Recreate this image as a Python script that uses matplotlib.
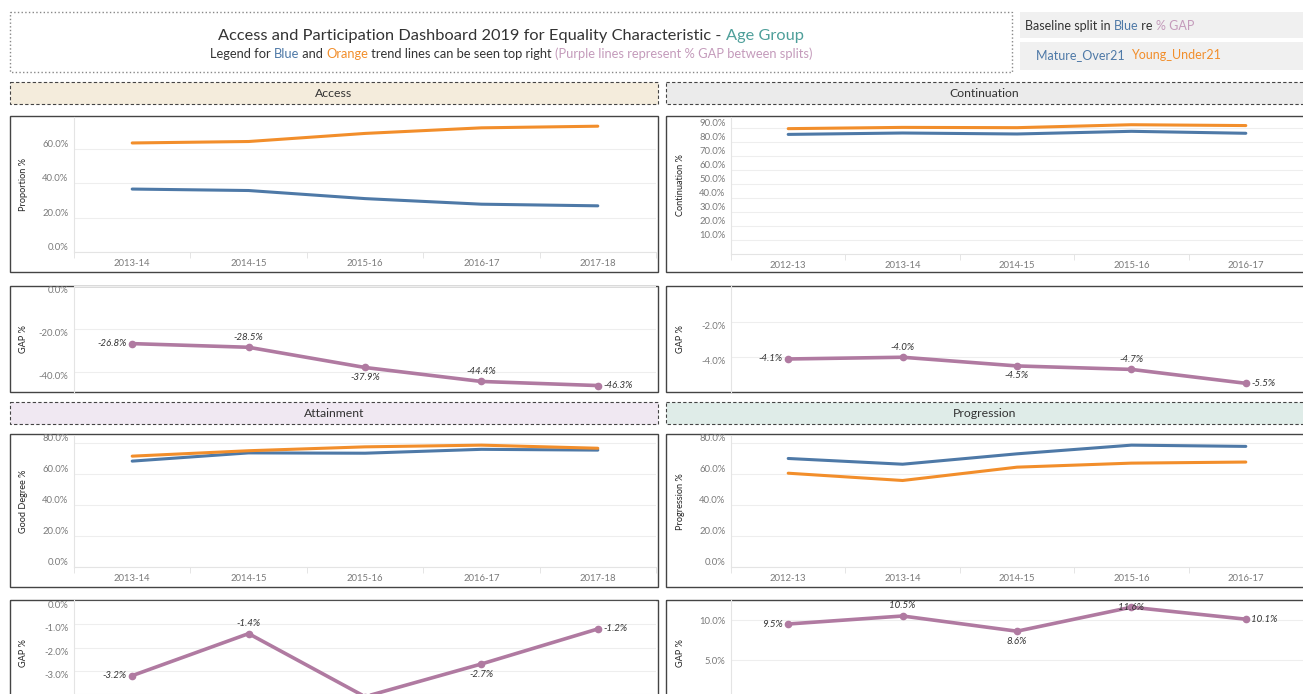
import matplotlib.pyplot as plt
from matplotlib.patches import Rectangle
from matplotlib.ticker import FuncFormatter

plt.rcParams['font.family'] = ['Lato', 'DejaVu Sans']

W, H = 1303, 694

# data
years_a = ['2013-14', '2014-15', '2015-16', '2016-17', '2017-18']
years_c = ['2012-13', '2013-14', '2014-15', '2015-16', '2016-17']

access_mature = [36.6, 35.75, 31.05, 27.8, 26.85]
access_young = [63.4, 64.25, 68.95, 72.2, 73.15]
access_gap = [-26.8, -28.5, -37.9, -44.4, -46.3]

cont_mature = [85.2, 86.2, 85.5, 87.4, 86.0]
cont_young = [89.3, 90.2, 90.0, 92.1, 91.5]
cont_gap = [-4.1, -4.0, -4.5, -4.7, -5.5]

att_mature = [68.3, 73.6, 73.4, 75.9, 75.4]
att_young = [71.5, 75.0, 77.5, 78.6, 76.6]
att_gap = [-3.2, -1.4, -4.1, -2.7, -1.2]

prog_mature = [70.0, 66.3, 73.0, 78.6, 77.8]
prog_young = [60.5, 55.8, 64.4, 67.0, 67.7]
prog_gap = [9.5, 10.5, 8.6, 11.6, 10.1]

BLUE = '#4e79a7'
ORANGE = '#f28e2b'
PURPLE = '#b07aa1'
TEAL = '#4e9f9a'
DARK = '#333333'
GREY = '#7a7a7a'

fig = plt.figure(figsize=(W / 100, H / 100), dpi=100)
bg = fig.add_axes([0, 0, 1, 1])
bg.set_xlim(0, W)
bg.set_ylim(H, 0)
bg.axis('off')
renderer = fig.canvas.get_renderer()


def box(x0, y0, x1, y1, fc='none', ec='none', ls='-', lw=1.0):
    bg.add_patch(Rectangle((x0, y0), x1 - x0, y1 - y0, facecolor=fc,
                           edgecolor=ec, linestyle=ls, linewidth=lw))


def text_width(s, size):
    t = bg.text(0, 0, s + '.', fontsize=size)
    d = bg.text(0, 0, '.', fontsize=size)
    w = t.get_window_extent(renderer).width - d.get_window_extent(renderer).width
    t.remove()
    d.remove()
    return w


def runs(x, y, parts, size, center=False):
    full = ''.join(s for s, c in parts)
    start = x - text_width(full, size) / 2 if center else x
    prefix = ''
    for s, c in parts:
        off = text_width(prefix, size) if prefix else 0
        bg.text(start + off, y, s, color=c, fontsize=size, va='center', ha='left')
        prefix += s


# header / legend area
box(10, 12, 1012, 72, ec='#888888', ls=':', lw=1.0)
runs(511, 36, [('Access and Participation Dashboard 2019 for Equality Characteristic - ', DARK),
               ('Age Group', TEAL)], 11.8, center=True)
runs(511, 54, [('Legend for ', DARK), ('Blue', BLUE), (' and ', DARK), ('Orange', ORANGE),
               (' trend lines can be seen top right ', DARK),
               ('(Purple lines represent % GAP between splits)', '#c49bbb')], 9.3, center=True)

box(1020, 12, 1310, 38, fc='#f0f0f0')
box(1020, 42, 1310, 70, fc='#f0f0f0')
runs(1025, 26, [('Baseline split in ', DARK), ('Blue', BLUE), (' re ', DARK), ('% GAP', '#c49bbb')], 9.0)
runs(1036, 55, [('Mature_Over21  ', BLUE), ('Young_Under21', ORANGE)], 9)

# section headers
for (x0, x1, y0, y1, name, fc) in [(10, 658, 82, 104, 'Access', '#f4ecdc'),
                                   (666, 1310, 82, 104, 'Continuation', '#ebebeb'),
                                   (10, 658, 402, 424, 'Attainment', '#f0e8f2'),
                                   (666, 1310, 402, 424, 'Progression', '#dfece8')]:
    box(x0, y0, x1, y1, fc=fc, ec='#444444', ls=(0, (3, 2)), lw=0.8)
    bg.text((x0 + min(x1, 1303)) / 2, (y0 + y1) / 2, name, fontsize=8.8, color=DARK,
            ha='center', va='center')

# panel borders
for (x0, x1, y0, y1) in [(10, 658, 116, 272), (666, 1310, 116, 272),
                         (10, 658, 286, 392), (666, 1310, 286, 392),
                         (10, 658, 434, 587), (666, 1310, 434, 587),
                         (10, 658, 600, 710), (666, 1310, 600, 710)]:
    box(x0, y0, x1, y1, ec='#444444', lw=1.0)


def make_ax(x0, y0, x1, y1):
    ax = fig.add_axes([x0 / W, 1 - y1 / H, (x1 - x0) / W, (y1 - y0) / H])
    ax.set_facecolor('none')
    return ax


def style(ax, ylim, ticks, ylabel, label_x, xlabels=None):
    ax.set_xlim(-0.5, 4.5)
    ax.set_ylim(*ylim)
    ax.set_yticks(ticks)
    ax.yaxis.set_major_formatter(FuncFormatter(lambda v, p: f'{v:.1f}%'))
    ax.grid(axis='y', color='#eeeeee', lw=0.8)
    ax.set_axisbelow(True)
    for s in ['top', 'right']:
        ax.spines[s].set_visible(False)
    ax.spines['left'].set_color('#e4e4e4')
    ax.tick_params(axis='y', length=0, pad=4, labelsize=6.8, labelcolor=GREY)
    if xlabels:
        ax.set_xticks(range(len(xlabels)))
        ax.set_xticklabels(xlabels)
        ax.set_xticks([i - 0.5 for i in range(len(xlabels) + 1)], minor=True)
        ax.tick_params(axis='x', which='major', length=0, pad=5, labelsize=6.8, labelcolor=GREY)
        ax.tick_params(axis='x', which='minor', length=4, color='#e0e0e0')
        ax.spines['bottom'].set_color('#e4e4e4')
    else:
        ax.set_xticks([])
        ax.spines['bottom'].set_visible(False)
    span = ylim[1] - ylim[0]
    for tick in ax.yaxis.get_major_ticks():
        loc = tick.get_loc()
        if abs(loc - ylim[1]) < 0.03 * span:
            tick.label1.set_va('top')
        elif abs(loc - ylim[0]) < 0.03 * span:
            tick.label1.set_va('bottom')
    ax.set_ylabel(ylabel, fontsize=6.6, color='#222222')
    x0 = ax.get_position().x0 * W
    wpx = ax.get_position().width * W
    ax.yaxis.set_label_coords((label_x - x0) / wpx, 0.5)


def trend(ax, mature, young):
    ax.plot(range(len(mature)), mature, color=BLUE, lw=2.2, solid_capstyle='round')
    ax.plot(range(len(young)), young, color=ORANGE, lw=2.2, solid_capstyle='round')


offsets = {'left': ((-4, 0), 'right', 'center'), 'right': ((4, 0), 'left', 'center'),
           'above': ((0, 4), 'center', 'bottom'), 'below': ((0, -4), 'center', 'top'),
           'on': ((0, 0), 'center', 'center')}


def gap_line(ax, gap, places):
    ax.plot(range(len(gap)), gap, color=PURPLE, lw=2.6, marker='o', ms=4.5,
            solid_capstyle='round')
    for i, (v, p) in enumerate(zip(gap, places)):
        off, ha, va = offsets[p]
        ax.annotate(f'{v:.1f}%', (i, v), xytext=off, textcoords='offset points',
                    ha=ha, va=va, fontsize=7, style='italic', color=DARK)


# Access
ax = make_ax(74, 117, 656, 252)
trend(ax, access_mature, access_young)
style(ax, (0, 78.5), [0, 20, 40, 60], 'Proportion %', 28, years_a)

ax = make_ax(74, 286, 656, 392)
gap_line(ax, access_gap, ['left', 'above', 'below', 'above', 'right'])
style(ax, (-49.3, 0), [0, -20, -40], 'GAP %', 28)

# Continuation
ax = make_ax(731, 117, 1303, 254)
trend(ax, cont_mature, cont_young)
style(ax, (0, 97.6), [10, 20, 30, 40, 50, 60, 70, 80, 90], 'Continuation %', 685, years_c)

ax = make_ax(731, 286, 1303, 392)
gap_line(ax, cont_gap, ['left', 'above', 'below', 'above', 'right'])
style(ax, (-6.0, 0.1), [-2, -4], 'GAP %', 685)

# Attainment
ax = make_ax(74, 436, 656, 567)
trend(ax, att_mature, att_young)
style(ax, (0, 84.5), [0, 20, 40, 60, 80], 'Good Degree %', 28, years_a)

ax = make_ax(74, 600, 656, 706)
gap_line(ax, att_gap, ['left', 'above', 'below', 'below', 'right'])
style(ax, (-4.5, 0.04), [0, -1, -2, -3, -4], 'GAP %', 28)

# Progression
ax = make_ax(731, 436, 1303, 567)
trend(ax, prog_mature, prog_young)
style(ax, (0, 84.5), [0, 20, 40, 60, 80], 'Progression %', 685, years_c)

ax = make_ax(731, 600, 1303, 706)
gap_line(ax, prog_gap, ['left', 'above', 'below', 'on', 'right'])
style(ax, (-0.75, 12.5), [0, 5, 10], 'GAP %', 685)

fig.savefig('out.png', dpi=100)
